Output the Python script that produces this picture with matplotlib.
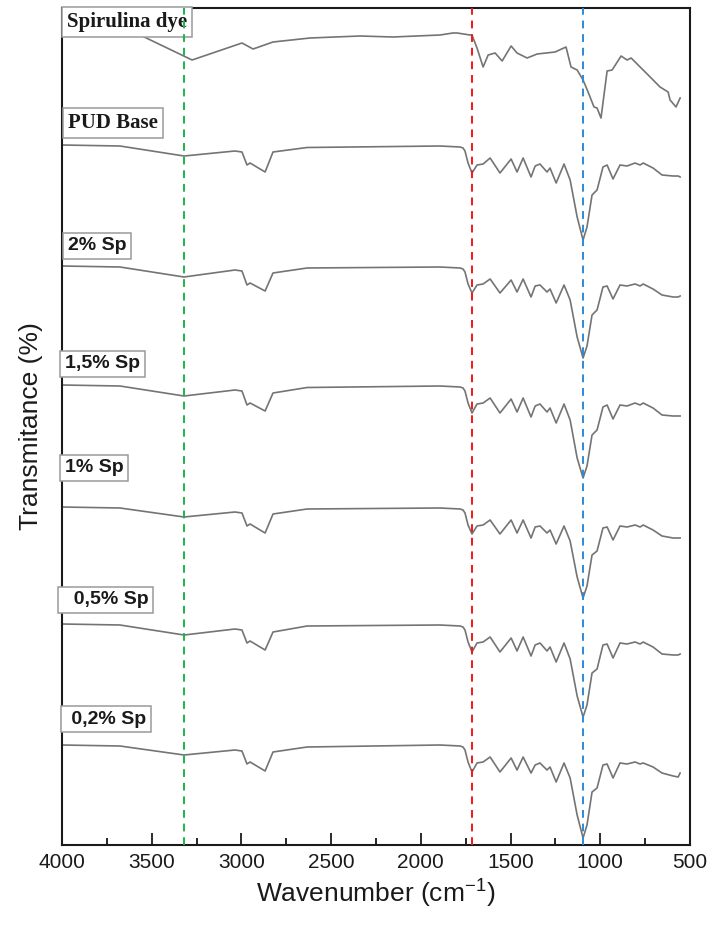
import numpy as np
import matplotlib
matplotlib.use('Agg')
import matplotlib.pyplot as plt
from matplotlib.ticker import MultipleLocator

plt.rcParams['font.family'] = ['Liberation Sans', 'DejaVu Sans']

# wavenumbers (cm-1)
wn_spir = [4000, 3565, 3275, 2997, 2935, 2824, 2618, 2339, 2155, 1893, 1821, 1798,
           1726, 1715, 1687, 1653, 1625, 1586, 1547, 1497, 1464, 1408, 1352, 1252,
           1191, 1163, 1129, 1096, 1068, 1035, 1018, 996, 962, 934, 884, 851, 828,
           778, 722, 667, 622, 611, 578, 555]
spirulina = [112, 100, 75, 92, 86, 93, 97, 99, 98, 100, 102, 102,
             100, 100, 87, 68, 80, 82, 74, 89, 82, 77, 81, 83,
             88, 68, 65, 55, 43, 28, 27, 17, 64, 65, 79, 75, 77,
             68, 58, 48, 43, 35, 28, 37]

wn_pud = [4000, 3677, 3320, 3036, 2997, 2969, 2952, 2868, 2824, 2634, 1893, 1781,
          1765, 1754, 1737, 1715, 1687, 1653, 1614, 1559, 1497, 1464, 1430, 1386,
          1363, 1336, 1297, 1280, 1246, 1202, 1168, 1129, 1096, 1074, 1046, 1018,
          985, 962, 929, 890, 851, 806, 778, 761, 706, 656, 594, 566, 555]
pud_base = [100, 99, 89, 94, 93, 80, 82, 73, 93, 97.5, 99, 98,
            97, 94, 82, 72, 80, 81, 87, 72, 86, 73, 87, 68,
            79, 81, 73, 77, 62, 81, 65, 28, 5, 18, 50, 55,
            78, 80, 66, 80, 79, 82, 80, 82, 77, 70, 69, 69, 68]
sp_2 = [100, 99, 89, 96, 95, 81, 83, 75, 93, 98, 99, 98,
        97, 94, 82, 73, 81, 82, 87, 73, 86, 74, 87, 69,
        80, 81, 74, 77, 63, 81, 66, 29, 8, 20, 51, 56,
        79, 80, 67, 81, 80, 82, 80, 82, 77, 71, 69, 69, 70]
sp_15 = [100, 99, 89, 95, 94, 80, 82, 74, 92, 97.5, 99, 98,
         97, 94, 82, 72, 81, 82, 87, 72, 86, 73, 87, 68,
         79, 81, 73, 77, 62, 81, 65, 27, 7, 19, 50, 55,
         78, 80, 66, 80, 79, 82, 80, 82, 77, 70, 69, 69, 69]
sp_1 = [100, 99, 90, 95, 94, 81, 83, 74, 93, 98, 99, 98,
        97, 94, 82, 73, 81, 82, 87, 73, 87, 74, 87, 69,
        80, 81, 74, 77, 63, 81, 66, 30, 9, 21, 52, 56,
        79, 80, 67, 81, 80, 82, 80, 82, 77, 71, 69, 69, 69]
sp_05 = [100, 99, 89, 95, 94, 81, 83, 74, 92, 98, 99, 98,
         97, 94, 82, 72, 81, 82, 87, 72, 86, 73, 87, 68,
         79, 81, 73, 77, 62, 81, 65, 28, 7, 19, 51, 55,
         79, 80, 66, 81, 80, 82, 80, 82, 77, 70, 69, 69, 70]
sp_02 = [100, 99, 90, 95, 94, 81, 83, 74, 93, 98, 100, 99,
         98, 95, 83, 73, 82, 83, 88, 73, 87, 75, 88, 72,
         80, 82, 75, 78, 63, 82, 67, 30, 7, 20, 53, 57,
         80, 81, 67, 82, 81, 83, 81, 82, 78, 72, 69, 68, 72]

labels = ['Spirulina dye', 'PUD Base', '2% Sp', '1,5% Sp', '1% Sp', '  0,5% Sp', ' 0,2% Sp']
offsets = [710, 600, 479, 360, 238, 121, 0]
marker_wn = [3320, 1715, 1096]
marker_colors = ['#1db34a', '#f01818', '#2b8ad8']

fig = plt.figure(figsize=(7.12, 9.26), dpi=100)
ax = fig.add_axes([62/712, 1-845/926, 628/712, 837/926])

series = [(wn_spir, spirulina)] + [(wn_pud, s) for s in [pud_base, sp_2, sp_15, sp_1, sp_05, sp_02]]
for (w, t), off in zip(series, offsets):
    ax.plot(w, np.array(t) + off, color='#747474', lw=1.2, zorder=2,
            solid_joinstyle='round')

for w, c in zip(marker_wn, marker_colors):
    ax.axvline(w, color=c, lw=1.4, ls=(0, (4, 3)), zorder=4)

# label boxes (pixel positions of the reference converted to axes fraction)
label_pos = [(67, 22), (68, 123), (68, 246), (65, 364), (65, 468), (63, 600), (66, 719)]
for i, (lab, (px, py)) in enumerate(zip(labels, label_pos)):
    if i < 2:
        fam, fs = ['Liberation Serif'], 15
    else:
        fam, fs = ['Liberation Sans'], 14
    ax.text((px - 62) / 628, (845 - py) / 837, lab, transform=ax.transAxes,
            ha='left', va='center', fontsize=fs, fontweight='bold', family=fam,
            color='#1a1a1a', zorder=3,
            bbox=dict(boxstyle='square,pad=0.25', fc='white', ec='#9a9a9a', lw=1.1))

ax.set_xlim(4000, 500)
ax.set_ylim(0, 837)
ax.set_yticks([])
ax.xaxis.set_major_locator(MultipleLocator(500))
ax.xaxis.set_minor_locator(MultipleLocator(250))
ax.tick_params(axis='x', which='major', direction='in', length=9, width=1.3,
               labelsize=15, pad=6, colors='#1a1a1a')
ax.tick_params(axis='x', which='minor', direction='in', length=5, width=1.2)
for sp in ax.spines.values():
    sp.set_linewidth(1.5)
    sp.set_color('#1a1a1a')

ax.set_xlabel('Wavenumber (cm$^{\\mathregular{-1}}$)', fontsize=19, color='#1a1a1a', labelpad=3)
ax.set_ylabel('Transmitance (%)', fontsize=19, color='#1a1a1a')
ax.yaxis.set_label_coords(-0.03, 0.5)

fig.savefig('out.png', dpi=100)
